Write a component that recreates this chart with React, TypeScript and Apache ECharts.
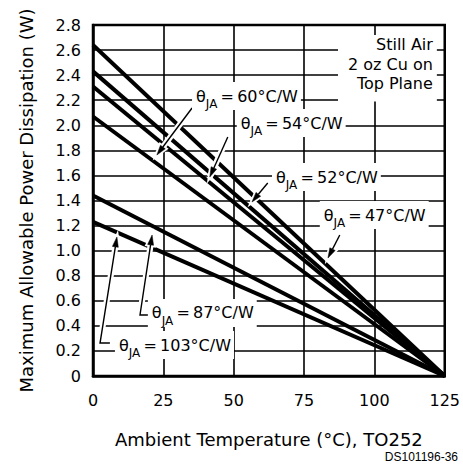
import React, { useEffect, useRef } from "react";
import * as echarts from "echarts";

// ---- data ----
const thetaValues = ["47", "52", "54", "60", "87", "103"];
const powerAtZeroC = [2.64, 2.43, 2.31, 2.07, 1.44, 1.23];
const zeroPowerTemp = 125;
const xTickValues = [0, 25, 50, 75, 100, 125];
const yMin = 0;
const yMax = 2.8;
const yStep = 0.2;

// annotation anchors (data coordinates): label left/middle point
const labelAnchors: number[][] = [
  [80.6, 1.284],
  [63.6, 1.587],
  [51.1, 2.018],
  [35.2, 2.233],
  [19.5, 0.503],
  [7.8, 0.247],
];
// leader arrows (data coordinates): last point is the arrow tip
const arrowPaths: number[][][] = [
  [[87.7, 1.125], [83.5, 0.941]],
  [[62.1, 1.54], [56.5, 1.388]],
  [[47.9, 1.907], [41.5, 1.587]],
  [[35.2, 2.138], [22.7, 1.763]],
  [[20.2, 0.487], [16.7, 0.487], [21.0, 1.125]],
  [[6.0, 0.263], [2.5, 0.263], [8.5, 1.109]],
];
const noteAnchor = [122.2, 2.72];
const noteLines = ["Still Air", "2 oz Cu on", "Top Plane"];

const FONT = "DejaVu Sans";

export default function App() {
  const ref = useRef<HTMLDivElement>(null);
  useEffect(() => {
    if (!ref.current) return;
    const chart = echarts.init(ref.current, undefined, { renderer: "svg" });
    const series = thetaValues.map((t, i) => ({
      type: "line",
      name: t,
      data: [
        [0, powerAtZeroC[i]],
        [zeroPowerTemp, 0],
      ],
      symbol: "none",
      lineStyle: { color: "#000", width: 4 },
      z: 2,
    }));
    chart.setOption({
      animation: false,
      backgroundColor: "#fff",
      grid: {
        left: 93,
        top: 25,
        width: 352,
        height: 351,
        show: true,
        borderColor: "#000",
        borderWidth: 2.5,
      },
      xAxis: {
        type: "value",
        min: xTickValues[0],
        max: xTickValues[xTickValues.length - 1],
        interval: 25,
        name: "Ambient Temperature (°C), TO252",
        nameLocation: "middle",
        nameGap: 54,
        nameTextStyle: { fontFamily: FONT, fontSize: 18, color: "#000" },
        axisLine: { show: true, lineStyle: { color: "#000", width: 2.5 } },
        axisTick: { show: false },
        splitLine: { show: true, lineStyle: { color: "#000", width: 1.6 } },
        axisLabel: { fontFamily: FONT, fontSize: 16, color: "#000", margin: 16 },
      },
      yAxis: {
        type: "value",
        min: yMin,
        max: yMax,
        interval: yStep,
        name: "Maximum Allowable Power Dissipation (W)",
        nameLocation: "middle",
        nameGap: 58,
        nameTextStyle: { fontFamily: FONT, fontSize: 18, color: "#000" },
        axisLine: { show: true, lineStyle: { color: "#000", width: 2.5 } },
        axisTick: { show: false },
        splitLine: { show: true, lineStyle: { color: "#000", width: 1.6 } },
        axisLabel: {
          fontFamily: FONT,
          fontSize: 16,
          color: "#000",
          margin: 12,
          formatter: (v: number) => (v === 0 ? "0" : v.toFixed(1)),
        },
      },
      series,
    });

    const px = (p: number[]) => chart.convertToPixel({ gridIndex: 0 }, p) as number[];
    const graphics: any[] = [];
    arrowPaths.forEach((path) => {
      const pts = path.map(px);
      const n = pts.length;
      const tip = pts[n - 1];
      const prev = pts[n - 2];
      const dx = tip[0] - prev[0];
      const dy = tip[1] - prev[1];
      const len = Math.hypot(dx, dy);
      const ux = dx / len;
      const uy = dy / len;
      const hl = 10;
      const hw = 3;
      const bx = tip[0] - ux * hl;
      const by = tip[1] - uy * hl;
      const head = [
        tip,
        [bx - uy * hw, by + ux * hw],
        [bx + uy * hw, by - ux * hw],
      ];
      graphics.push({
        type: "polyline",
        z: 10,
        shape: { points: pts },
        style: { stroke: "#fff", lineWidth: 6, fill: null },
      });
      graphics.push({
        type: "polygon",
        z: 10,
        shape: { points: head },
        style: { stroke: "#fff", lineWidth: 4, fill: "#fff" },
      });
      graphics.push({
        type: "polyline",
        z: 11,
        shape: { points: pts.slice(0, n - 1).concat([[bx, by]]) },
        style: { stroke: "#000", lineWidth: 1.4, fill: null },
      });
      graphics.push({
        type: "polygon",
        z: 12,
        shape: { points: head },
        style: { fill: "#000", stroke: "#000", lineWidth: 0.5 },
      });
    });
    thetaValues.forEach((t, i) => {
      const p = px(labelAnchors[i]);
      graphics.push({
        type: "text",
        z: 13,
        x: p[0],
        y: p[1],
        style: {
          text: `{t|θ}{s|JA}{t|\u2009=\u2009${t}°C/W}`,
          align: "left",
          verticalAlign: "middle",
          backgroundColor: "#fff",
          padding: [0, 3, 0, 4],
          rich: {
            t: { fontFamily: FONT, fontSize: 16, lineHeight: 28, fill: "#000" },
            s: {
              fontFamily: FONT,
              fontSize: 12,
              lineHeight: 12,
              verticalAlign: "bottom",
              fill: "#000",
            },
          },
        },
      });
    });
    const np = px(noteAnchor);
    graphics.push({
      type: "text",
      z: 13,
      x: np[0],
      y: np[1],
      style: {
        text: noteLines.join("\n"),
        align: "right",
        verticalAlign: "top",
        fontFamily: FONT,
        fontSize: 16,
        lineHeight: 19.5,
        fill: "#000",
        backgroundColor: "#fff",
        padding: [0, 4, 8, 10],
      },
    });
    graphics.push({
      type: "text",
      x: 458,
      y: 457,
      style: {
        text: "DS101196-36",
        align: "right",
        verticalAlign: "middle",
        fontFamily: "Liberation Sans",
        fontSize: 12,
        fill: "#000",
      },
    });
    chart.setOption({ graphic: graphics });
    return () => chart.dispose();
  }, []);
  return (
    <div
      ref={ref}
      style={{ position: "fixed", left: 0, top: 0, width: 463, height: 468 }}
    />
  );
}
